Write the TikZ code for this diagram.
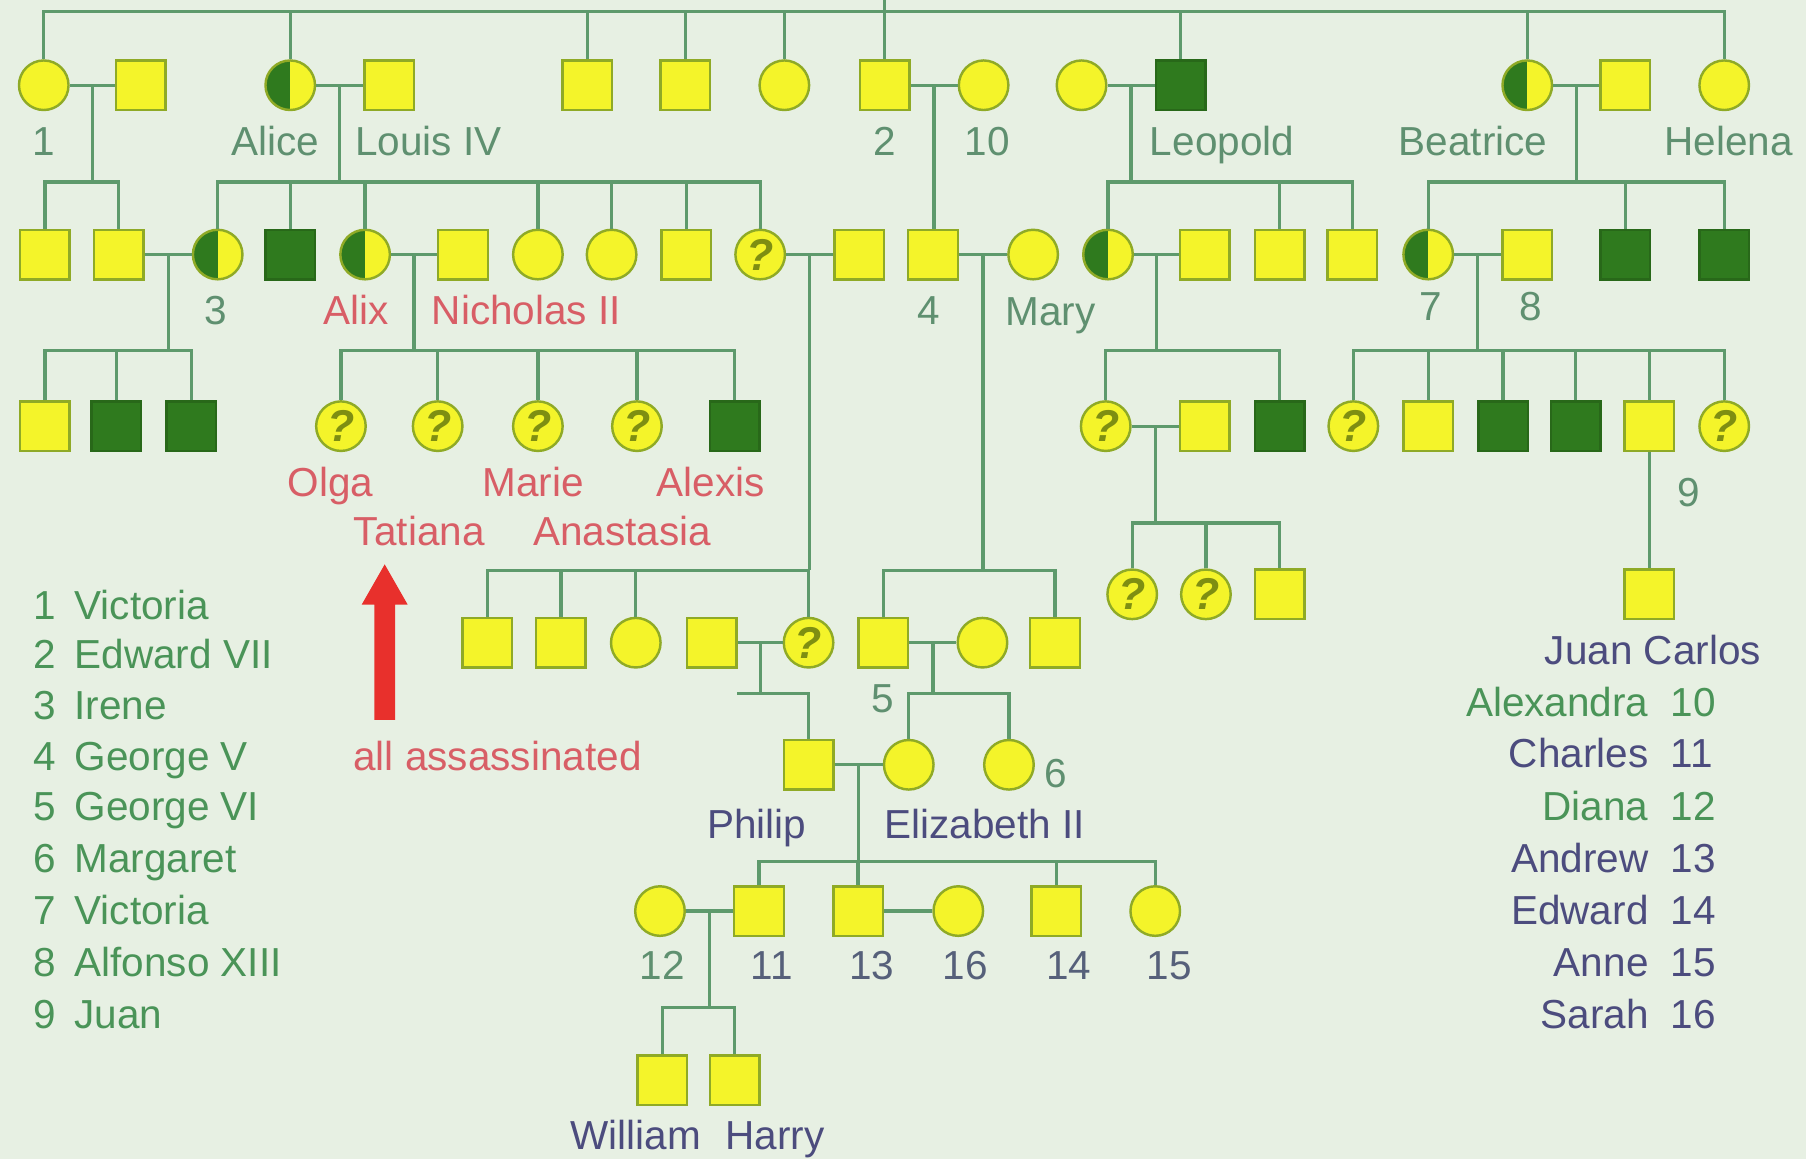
\documentclass[tikz,border=0pt]{standalone}
\usepackage{fontspec}
\setmainfont{Liberation Sans}
\usetikzlibrary{calc}
\definecolor{bgc}{HTML}{E7F0E3}
\definecolor{lnc}{HTML}{5E9A6C}
\definecolor{yel}{HTML}{F4F42A}
\definecolor{bdc}{HTML}{8FAA26}
\definecolor{dkg}{HTML}{2F7A1E}
\definecolor{gtx}{HTML}{5F9070}
\definecolor{legc}{HTML}{4A9458}
\definecolor{rtx}{HTML}{D85E66}
\definecolor{btx}{HTML}{4C4C7E}
\definecolor{ntx}{HTML}{56607A}
\definecolor{arrc}{HTML}{E8302C}
\definecolor{qc}{HTML}{7E8E12}
\tikzset{
	ln/.style={draw=lnc, line width=0.8pt},
	pers/.style={draw=bdc, fill=yel, line width=0.6pt, inner sep=0pt},
	sq/.style={pers, rectangle, minimum size=0.43cm},
	dsq/.style={sq, fill=dkg, draw=dkg!85!black},
	fem/.style={pers, circle, minimum size=0.43cm},
	carr/.style={fem, path picture={\fill[dkg] (path picture bounding box.south west) rectangle (path picture bounding box.north);}},
	unk/.style={fem, font=\fontsize{11}{11}\selectfont\bfseries\itshape, text=qc},
	lbl/.style={font=\fontsize{10}{12}\selectfont, text=gtx, inner sep=0pt, text height=7.2pt, text depth=0pt},
	rlbl/.style={lbl, text=rtx},
	blbl/.style={lbl, text=btx},
	leg/.style={lbl, text=legc},
}
\begin{document}
\begin{tikzpicture}[x=0.01cm, y=-0.01cm]
	\fill[bgc] (0,0) rectangle (1568,1006);
	\useasboundingbox (0,0) rectangle (1568,1006);
	% levels of the sibship bars
	\coordinate (apex) at (768,0);
	\coordinate (r0) at (0,10);
	\coordinate (r1) at (0,158);
	\coordinate (r2) at (0,304);
	\coordinate (r3) at (0,454);
	\coordinate (r4) at (0,495);
	\coordinate (r5) at (0,602);
	\coordinate (r6) at (0,748);
	\coordinate (r7) at (0,875);
	\coordinate (pb) at (640,602);

	% generation 1
	\node[fem] (vic1) at (38,74) {};
	\node[sq] (hv1) at (122,74) {};
	\node[carr] (alice) at (252,74) {};
	\node[sq] (louis) at (338,74) {};
	\node[sq] (s3) at (510,74) {};
	\node[sq] (s4) at (595,74) {};
	\node[fem] (c5) at (681,74) {};
	\node[sq] (ed7) at (768,74) {};
	\node[fem] (alx) at (854,74) {};
	\node[fem] (lw) at (939,74) {};
	\node[dsq] (leo) at (1025,74) {};
	\node[carr] (bea) at (1326,74) {};
	\node[sq] (hb) at (1411,74) {};
	\node[fem] (hel) at (1497,74) {};

	% generation 2
	\node[sq] (g2a) at (39,221) {};
	\node[sq] (g2b) at (103,221) {};
	\node[carr] (irene) at (189,221) {};
	\node[dsq] (g2d) at (252,221) {};
	\node[carr] (alix) at (317,221) {};
	\node[sq] (nich) at (402,221) {};
	\node[fem] (g2g) at (467,221) {};
	\node[fem] (g2h) at (531,221) {};
	\node[sq] (g2i) at (596,221) {};
	\node[unk] (g2q) at (660,221) {?};
	\node[sq] (g2s) at (746,221) {};
	\node[sq] (geo5) at (810,221) {};
	\node[fem] (mary) at (897,221) {};
	\node[carr] (g2l) at (962,221) {};
	\node[sq] (g2ls) at (1046,221) {};
	\node[sq] (g2m) at (1111,221) {};
	\node[sq] (g2n) at (1174,221) {};
	\node[carr] (vic7) at (1240,221) {};
	\node[sq] (alf) at (1326,221) {};
	\node[dsq] (g2o) at (1411,221) {};
	\node[dsq] (g2p) at (1497,221) {};

	% generation 3
	\node[sq] (g3a) at (39,370) {};
	\node[dsq] (g3b) at (101,370) {};
	\node[dsq] (g3c) at (166,370) {};
	\node[unk] (olga) at (296,370) {?};
	\node[unk] (tat) at (380,370) {?};
	\node[unk] (marie) at (467,370) {?};
	\node[unk] (anas) at (553,370) {?};
	\node[dsq] (alexis) at (638,370) {};
	\node[unk] (g3l) at (960,370) {?};
	\node[sq] (g3ls) at (1046,370) {};
	\node[dsq] (g3m) at (1111,370) {};
	\node[unk] (g3n) at (1175,370) {?};
	\node[sq] (g3o) at (1240,370) {};
	\node[dsq] (g3p) at (1305,370) {};
	\node[dsq] (g3q) at (1368,370) {};
	\node[sq] (juan) at (1432,370) {};
	\node[unk] (g3r) at (1497,370) {?};

	% generation 4
	\node[unk] (g4r) at (983,516) {?};
	\node[unk] (g4s) at (1047,516) {?};
	\node[sq] (g4t) at (1111,516) {};
	\node[sq] (jc) at (1432,516) {};
	\node[sq] (g4a) at (423,558) {};
	\node[sq] (g4b) at (487,558) {};
	\node[fem] (g4c) at (552,558) {};
	\node[sq] (g4p) at (618,558) {};
	\node[unk] (g4q) at (702,558) {?};
	\node[sq] (geo6) at (767,558) {};
	\node[fem] (qm) at (853,558) {};
	\node[sq] (g4e) at (916,558) {};

	% generations 5 to 7
	\node[sq] (phil) at (702,664) {};
	\node[fem] (eliz) at (789,664) {};
	\node[fem] (marg) at (876,664) {};
	\node[fem] (diana) at (573,791) {};
	\node[sq] (charles) at (659,791) {};
	\node[sq] (andrew) at (745,791) {};
	\node[fem] (sarah) at (832,791) {};
	\node[sq] (edw) at (917,791) {};
	\node[fem] (anne) at (1003,791) {};
	\node[sq] (will) at (575,938) {};
	\node[sq] (harry) at (638,938) {};

	% Victoria's children
	\draw[ln] (apex) -- (apex |- r0);
	\draw[ln] (vic1.north) |- (hel |- r0) -- (hel.north);
	\foreach \n in {alice,s3,s4,c5,ed7,leo,bea}
		\draw[ln] (\n.north) -- (\n |- r0);

	% marriages: midpoint and drop
	\foreach \m/\a/\b in {m1/vic1/hv1, m2/alice/louis, m3/ed7/alx, m4/lw/leo, m5/bea/hb,
		m6/g2b/irene, m7/alix/nich, m8/g2q/g2s, m9/geo5/mary, m10/g2l/g2ls, m11/vic7/alf,
		m12/g3l/g3ls, m13/g4p/g4q, m14/geo6/qm, m15/phil/eliz, m16/diana/charles} {
		\draw[ln] (\a) -- (\b);
		\coordinate (\m) at ($(\a)!.5!(\b)$);
	}
	\draw[ln] (andrew) -- (sarah);
	\draw[ln] (m1) -- (m1 |- r1);
	\draw[ln] (m2) -- (m2 |- r1);
	\draw[ln] (m3) -- (m3 |- geo5.north);
	\draw[ln] (m4) -- (m4 |- r1);
	\draw[ln] (m5) -- (m5 |- r1);
	\draw[ln] (m6) -- (m6 |- r2);
	\draw[ln] (m7) -- (m7 |- r2);
	\draw[ln] (m8) -- (m8 |- r4);
	\draw[ln] (m9) -- (m9 |- r4);
	\draw[ln] (m10) -- (m10 |- r2);
	\draw[ln] (m11) -- (m11 |- r2);
	\draw[ln] (m12) -- (m12 |- r3);
	\draw[ln] (m13) -- (m13 |- r5);
	\draw[ln] (m14) -- (m14 |- r5);
	\draw[ln] (m15) -- (m15 |- r6);
	\draw[ln] (m16) -- (m16 |- r7);

	% sibship bars
	\draw[ln] (g2a.north) |- (g2b |- r1) -- (g2b.north);
	\draw[ln] (irene.north) |- (g2q |- r1) -- (g2q.north);
	\foreach \n in {g2d,alix,g2g,g2h,g2i}
		\draw[ln] (\n.north) -- (\n |- r1);
	\draw[ln] (g2l.north) |- (g2n |- r1) -- (g2n.north);
	\draw[ln] (g2m.north) -- (g2m |- r1);
	\draw[ln] (vic7.north) |- (g2p |- r1) -- (g2p.north);
	\draw[ln] (g2o.north) -- (g2o |- r1);
	\draw[ln] (g3a.north) |- (g3c |- r2) -- (g3c.north);
	\draw[ln] (g3b.north) -- (g3b |- r2);
	\draw[ln] (olga.north) |- (alexis |- r2) -- (alexis.north);
	\foreach \n in {tat,marie,anas}
		\draw[ln] (\n.north) -- (\n |- r2);
	\draw[ln] (g3l.north) |- (g3m |- r2) -- (g3m.north);
	\draw[ln] (g3n.north) |- (g3r |- r2) -- (g3r.north);
	\foreach \n in {g3o,g3p,g3q,juan}
		\draw[ln] (\n.north) -- (\n |- r2);
	\draw[ln] (g4r.north) |- (g4t |- r3) -- (g4t.north);
	\draw[ln] (g4s.north) -- (g4s |- r3);
	\draw[ln] (juan) -- (jc);
	\draw[ln] (g4a.north) |- (g4q |- r4) -- (g4q.north);
	\foreach \n in {g4b,g4c}
		\draw[ln] (\n.north) -- (\n |- r4);
	\draw[ln] (geo6.north) |- (g4e |- r4) -- (g4e.north);
	\draw[ln] (pb) -| (phil.north);
	\draw[ln] (eliz.north) |- (marg |- r5) -- (marg.north);
	\draw[ln] (charles.north) |- (anne |- r6) -- (anne.north);
	\foreach \n in {andrew,edw}
		\draw[ln] (\n.north) -- (\n |- r6);
	\draw[ln] (will.north) |- (harry |- r7) -- (harry.north);

	% names under the symbols
	\node[lbl] (t1) at (38,122) {1};
	\node[lbl] (talice) at (239,122) {Alice};
	\node[lbl] (tlouis) at (372,122) {Louis IV};
	\node[lbl] (t2) at (768,122) {2};
	\node[lbl] (t10) at (857,122) {10};
	\node[lbl] (tleo) at (1061,122) {Leopold};
	\node[lbl] (tbea) at (1279,122) {Beatrice};
	\node[lbl] (thel) at (1501,122) {Helena};
	\node[lbl] (t3) at (187,269) {3};
	\node[rlbl] (talix) at (309,269) {Alix};
	\node[rlbl] (tnich) at (457,269) {Nicholas II};
	\node[lbl] (t4) at (806,269) {4};
	\node[lbl] (tmary) at (912,270) {Mary};
	\node[lbl] (t7) at (1242,266) {7};
	\node[lbl] (t8) at (1329,266) {8};
	\node[rlbl] (tolga) at (287,418) {Olga};
	\node[rlbl] (ttat) at (364,461) {Tatiana};
	\node[rlbl] (tmarie) at (463,418) {Marie};
	\node[rlbl] (tanas) at (540,461) {Anastasia};
	\node[rlbl] (talexis) at (617,418) {Alexis};
	\node[lbl] (t9) at (1466,427) {9};
	\node[blbl] (tjc) at (1435,564) {Juan Carlos};
	\node[lbl] (t5) at (766,606) {5};
	\node[lbl] (t6) at (917,671) {6};
	\node[blbl] (tphil) at (657,715) {Philip};
	\node[blbl] (teliz) at (855,715) {Elizabeth II};
	\node[lbl] (t12) at (575,838) {12};
	\foreach \x/\k in {670/11, 757/13, 838/16, 928/14, 1015/15}
		\node[lbl, text=ntx] (t\k) at (\x,838) {\k};
	\node[blbl] (twill) at (552,985) {William};
	\node[blbl] (tharry) at (673,985) {Harry};

	% arrow
	\fill[arrc] (325,625) -- (325,525) -- (314,525) -- (334,490) -- (354,525) -- (343,525) -- (343,625) -- cycle;
	\node[rlbl] (tall) at (432,656) {all assassinated};

	% key, left
	\foreach \y/\k/\nm in {525/1/Victoria, 568/2/Edward VII, 612/3/Irene, 656/4/George V,
		700/5/George VI, 745/6/Margaret, 790/7/Victoria, 835/8/Alfonso XIII, 880/9/Juan} {
		\node[leg, anchor=west] (kn\k) at (28,\y) {\k};
		\node[leg, anchor=west] (kt\k) at (64,\y) {\nm};
	}
	% key, right
	\foreach \y/\k/\nm/\c in {609/10/Alexandra/legc, 654/11/Charles/btx, 700/12/Diana/legc,
		745/13/Andrew/btx, 790/14/Edward/btx, 835/15/Anne/btx, 880/16/Sarah/btx} {
		\node[lbl, text=\c, anchor=east] (kr\k) at (1432,\y) {\nm};
		\node[lbl, text=\c, anchor=west] (kq\k) at (1450,\y) {\k};
	}
\end{tikzpicture}
\end{document}
